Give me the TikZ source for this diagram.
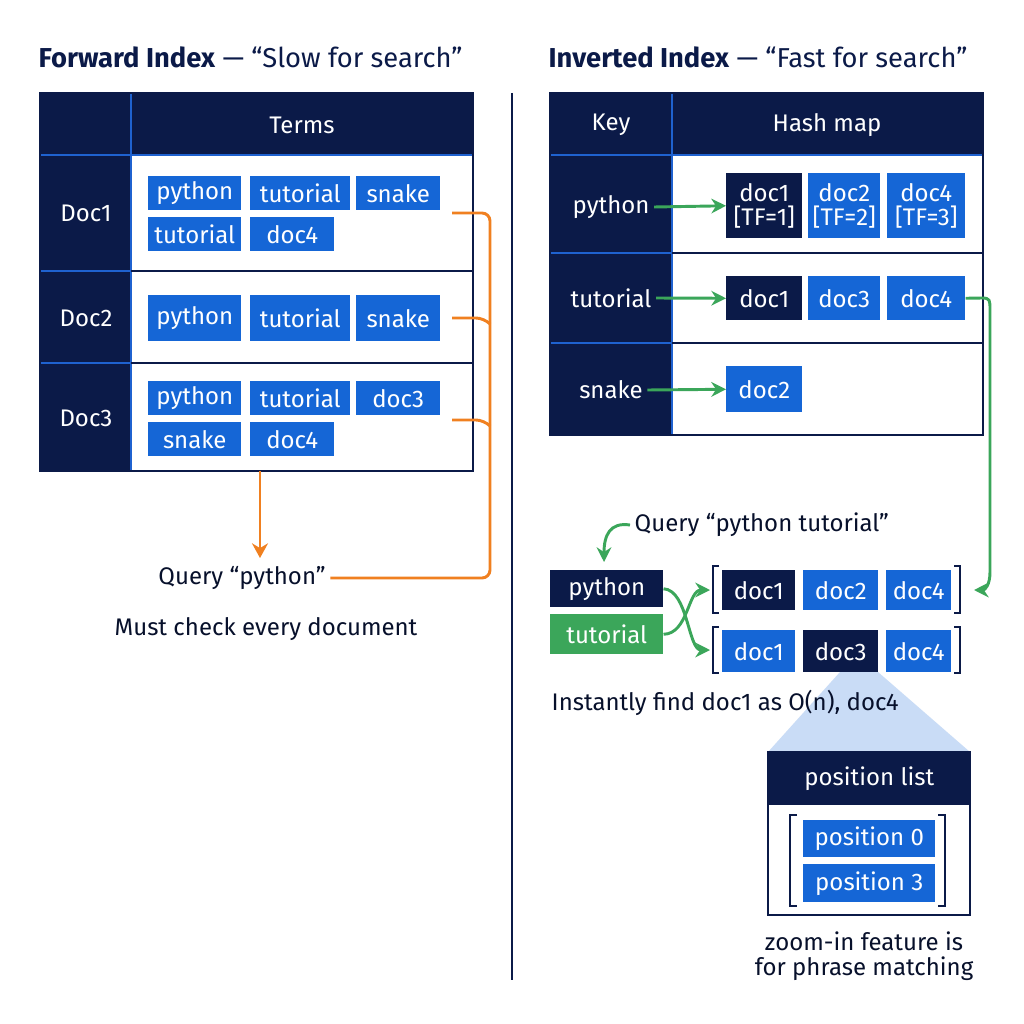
\documentclass[tikz,border=0pt]{standalone}
\usepackage{fontspec}
\setmainfont{Fira Sans}
\usetikzlibrary{arrows.meta}
\definecolor{navy}{HTML}{0B1A48}
\definecolor{chip}{HTML}{1566D6}
\definecolor{sep}{HTML}{1F62D0}
\definecolor{orng}{HTML}{F08020}
\definecolor{grn}{HTML}{3BA65A}
\definecolor{lb}{HTML}{C9DCF6}
\begin{document}
\begin{tikzpicture}[x=0.75pt,y=-0.75pt,
 fs/.style={font=\fontsize{18}{19.5}\selectfont},
 sz/.style 2 args={minimum width=#1*0.75pt,minimum height=#2*0.75pt,anchor=north west},
 chip/.style={fill=chip,text=white,inner sep=0pt,fs},
 dchip/.style={fill=navy,text=white,inner sep=0pt,fs},
 lab/.style={text=white,fs},
 txt/.style={text=navy!60!black,fs},
 ttl/.style={text=navy,font=\fontsize{20.5}{22}\selectfont,anchor=west},
 oarr/.style={orng,line width=2.2pt},
 garr/.style={grn,line width=2.2pt,-{Stealth[length=11pt,width=11pt]}},
 brk/.style={navy,line width=1.6pt}]
\useasboundingbox (0,0) rectangle (1024,1024);
\fill[white] (0,0) rectangle (1024,1024);
% titles
\node[ttl] (t1) at (34,57) {\textbf{Forward Index} — “Slow for search”};
\node[ttl] (t2) at (544,57) {\textbf{Inverted Index} — “Fast for search”};
\draw[navy,line width=1.5pt] (512,93) -- (512,980);
% ===== left table
\fill[navy] (40,93) rectangle (473,155);
\fill[navy] (40,155) rectangle (131,471);
\draw[sep,line width=1.5pt] (131,93) -- (131,471);
\draw[sep,line width=1.5pt] (40,155) -- (473,155);
\draw[sep,line width=1.5pt] (40,271) -- (131,271) (40,363) -- (131,363);
\draw[navy,line width=1.5pt] (131,271) -- (473,271) (131,363) -- (473,363);
\draw[navy,line width=1.5pt] (40,93) rectangle (473,471);
\node[lab] (terms) at (302,125) {Terms};
\node[lab] (d1) at (86,213) {Doc1};
\node[lab] (d2) at (86,318) {Doc2};
\node[lab] (d3) at (86,418) {Doc3};
\node[chip,sz={93}{34}] (a1) at (148,176) {python};
\node[chip,sz={100}{34}] (a2) at (250,176) {tutorial};
\node[chip,sz={84}{34}] (a3) at (356,176) {snake};
\node[chip,sz={93}{34}] (a4) at (148,217) {tutorial};
\node[chip,sz={84}{34}] (a5) at (250,217) {doc4};
\node[chip,sz={93}{46}] (b1) at (148,295) {python};
\node[chip,sz={100}{46}] (b2) at (250,295) {tutorial};
\node[chip,sz={84}{46}] (b3) at (356,295) {snake};
\node[chip,sz={93}{34}] (c1) at (148,381) {python};
\node[chip,sz={100}{34}] (c2) at (250,381) {tutorial};
\node[chip,sz={84}{34}] (c3) at (356,381) {doc3};
\node[chip,sz={93}{34}] (c4) at (148,422) {snake};
\node[chip,sz={84}{34}] (c5) at (250,422) {doc4};
\coordinate (o1) at (452,213); \coordinate (o2) at (452,318); \coordinate (o3) at (452,420);
\node[txt] (q1) at (242,578) {Query “python”};
\node[txt] (must) at (266,629) {Must check every document};
\draw[oarr,rounded corners=6pt] (o1) -- (490,213) -- (490,578) -- (q1.east);
\draw[oarr,rounded corners=6pt] (o2) -- (484,318) -- (490,324);
\draw[oarr,rounded corners=6pt] (o3) -- (484,420) -- (490,426);
\coordinate (ob) at (260,471);
\draw[oarr,-{Stealth[length=11pt,width=12pt]}] (ob) -- (260,558);
% ===== right table
\fill[navy] (550,93) rectangle (983,155);
\fill[navy] (550,155) rectangle (672,435);
\draw[sep,line width=1.5pt] (672,93) -- (672,435);
\draw[sep,line width=1.5pt] (550,155) -- (983,155);
\draw[sep,line width=1.5pt] (550,253) -- (672,253) (550,343) -- (672,343);
\draw[navy,line width=1.5pt] (672,253) -- (983,253) (672,343) -- (983,343);
\draw[navy,line width=1.5pt] (550,93) rectangle (983,435);
\node[lab] (key) at (611,125) {Key};
\node[lab] (hm) at (827,125) {Hash map};
\node[lab] (kp) at (611,207) {python};
\node[lab] (kt) at (611,298) {tutorial};
\node[lab] (ks) at (611,390) {snake};
\node[dchip,sz={76}{65},align=center] (p1) at (726,173) {doc1\\[-2pt][TF=1]};
\node[chip,sz={72}{65},align=center] (p2) at (808,173) {doc2\\[-2pt][TF=2]};
\node[chip,sz={78}{65},align=center] (p3) at (887,173) {doc4\\[-2pt][TF=3]};
\node[dchip,sz={76}{44}] (r1) at (726,276) {doc1};
\node[chip,sz={72}{44}] (r2) at (808,276) {doc3};
\node[chip,sz={78}{44}] (r3) at (887,276) {doc4};
\node[chip,sz={76}{46}] (s1) at (726,366) {doc2};
\draw[garr] (kp.east) -- (p1.west);
\draw[garr] (kt.east) -- (r1.west);
\draw[garr] (ks.east) -- (s1.west);
% bottom right
\fill[lb] (840,672) -- (878,672) -- (970,752) -- (768,752) -- cycle;
\node[txt,anchor=west] (q2) at (630,525) {Query “python tutorial”};
\node[dchip,sz={113}{37}] (qp) at (550,570) {python};
\node[fill=grn,text=white,inner sep=0pt,fs,sz={113}{40}] (qt) at (550,614) {tutorial};
\node[dchip,sz={73}{40}] (u1) at (722,570) {doc1};
\node[chip,sz={75}{40}] (u2) at (803,570) {doc2};
\node[chip,sz={65}{40}] (u3) at (886,570) {doc4};
\node[chip,sz={73}{42}] (v1) at (722,630) {doc1};
\node[dchip,sz={75}{42}] (v2) at (803,630) {doc3};
\node[chip,sz={65}{42}] (v3) at (886,630) {doc4};
\draw[brk] (719,566) -- (713,566) -- (713,613) -- (719,613);
\draw[brk] (954,566) -- (960,566) -- (960,613) -- (954,613);
\draw[brk] (719,627) -- (713,627) -- (713,673) -- (719,673);
\draw[brk] (954,627) -- (960,627) -- (960,673) -- (954,673);
\draw[garr] (q2.west) .. controls (610,522) and (604,535) .. (604,562);
\draw[garr] (r3.east) -- (982,298) .. controls (990,298) and (990,300) .. (990,310) -- (990,572) .. controls (990,585) and (985,590) .. (974,590);
\draw[garr] (qp.east) .. controls (688,590) and (688,650) .. (710,650);
\draw[garr] (qt.east) .. controls (688,634) and (688,590) .. (710,590);
\node[txt,anchor=west] (inst) at (547,703) {Instantly find doc1 as O(n), doc4};
% zoom box
\node[dchip,sz={202}{53}] (plh) at (768,752) {position list};
\draw[navy,line width=1.5pt] (768,752) rectangle (970,915);
\node[chip,sz={132}{37}] (pos0) at (803,820) {position 0};
\node[chip,sz={132}{38}] (pos3) at (803,864) {position 3};
\draw[brk] (797,815) -- (790,815) -- (790,906) -- (797,906);
\draw[brk] (938,815) -- (945,815) -- (945,906) -- (938,906);
\node[txt,align=center] (zoom) at (864,956) {zoom-in feature is\\[-1pt]for phrase matching};
\end{tikzpicture}
\end{document}
